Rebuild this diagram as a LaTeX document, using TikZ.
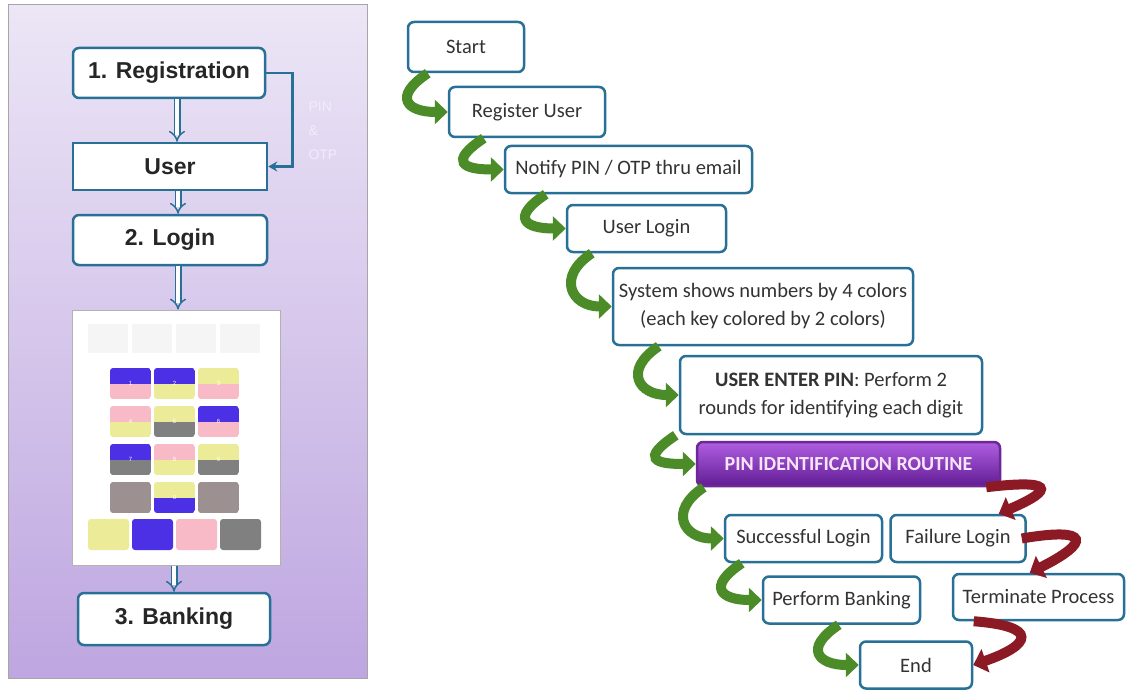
\documentclass[tikz,border=0pt]{standalone}
\usepackage{fontspec}
\setmainfont{Carlito}
\newfontfamily\arialfont{Liberation Sans}
\usetikzlibrary{arrows.meta,calc}
\usetikzlibrary{positioning}
\definecolor{boxblue}{RGB}{40,112,150}
\definecolor{flowgreen}{RGB}{76,140,40}
\definecolor{flowred}{RGB}{140,26,36}
\definecolor{keyblue}{RGB}{76,48,230}
\definecolor{keypink}{RGB}{247,186,198}
\definecolor{keyyellow}{RGB}{236,236,152}
\definecolor{keygray}{RGB}{128,128,128}
\definecolor{keytaupe}{RGB}{156,144,144}
\tikzstyle{stage} = [rectangle, rounded corners=6pt, draw=boxblue, line width=2.5pt, fill=white, text=black!85, inner sep=2pt, font=\arialfont\bfseries\fontsize{23}{26}\selectfont]
\tikzstyle{flowbox} = [rectangle, rounded corners=6pt, draw=boxblue, line width=2.5pt, fill=white, text=black!80, inner sep=2pt, align=center, font=\fontsize{20.5}{28}\selectfont]
\tikzstyle{hollow} = [draw=boxblue, line width=1.5pt, double=white, double distance=4pt, -{Implies[length=7pt]}]
\tikzstyle{greenarrow} = [flowgreen, line width=10pt, -{Triangle[length=13pt,width=24pt]}]
\tikzstyle{redarrow} = [flowred, line width=10pt, -{Triangle[length=13pt,width=24pt]}]

\begin{document}
\begin{tikzpicture}[x=1pt, y=-1pt]
    \useasboundingbox (0,0) rectangle (1127,690);
    \fill[white] (0,0) rectangle (1127,690);
    \draw[gray!70, line width=1pt, top color={rgb,255:red,236;green,230;blue,246}, bottom color={rgb,255:red,190;green,166;blue,224}] (8,5) rectangle (367,678);

    \node (reg) [stage, minimum width=192pt, minimum height=50pt] at (169,73) {1. Registration};
    \node (user) [stage, sharp corners, minimum width=194pt, minimum height=47pt] at (170,166.5) {User};
    \node (login) [stage, minimum width=194pt, minimum height=50pt] at (170,240) {2. Login};
    \node (keypad) [rectangle, draw=gray!60, line width=1pt, fill=white, minimum width=208pt, minimum height=255pt] at (176,437.5) {};
    \node (bank) [stage, minimum width=192pt, minimum height=52pt] at (174,619) {3. Banking};

    \draw[hollow] ([xshift=8pt]reg.south) -- ([xshift=8pt]reg.south |- user.north);
    \draw[hollow] ([xshift=8pt]user.south) -- ([xshift=8pt]user.south |- login.north);
    \draw[hollow] ([xshift=8pt]login.south) -- ([xshift=8pt]login.south |- keypad.north);
    \draw[hollow] ([xshift=-2pt]keypad.south) -- ([xshift=-2pt]keypad.south |- bank.north);
    \draw[boxblue, line width=2.5pt, -{Stealth[length=9pt,width=10pt]}] (reg.east) -- ++(26,0) |- (user.east);
    \node (pinotp) [align=left, text={rgb,255:red,242;green,236;blue,250}, font=\arialfont\fontsize{14}{24}\selectfont, anchor=north west] at (305,98) {PIN\\\&\\OTP};

    \foreach \i in {0,...,3}
        \fill[gray!8] (88+44*\i,324) rectangle +(40,29);
    \foreach \c/\r/\ca/\cb/\d in {0/0/keyblue/keypink/1, 1/0/keyblue/keyyellow/2, 2/0/keyyellow/keypink/3,
        0/1/keypink/keyyellow/4, 1/1/keyyellow/keygray/5, 2/1/keyblue/keypink/6,
        0/2/keyblue/keygray/7, 1/2/keypink/keyyellow/8, 2/2/keyyellow/keygray/9,
        0/3/keytaupe/keytaupe/, 1/3/keyyellow/keyblue/0, 2/3/keytaupe/keytaupe/}{
        \begin{scope}
            \clip[rounded corners=3pt] (110+44*\c,368+38*\r) rectangle +(41,31);
            \fill[\ca] (110+44*\c,368+38*\r) rectangle +(41,15.5);
            \fill[\cb] (110+44*\c,383.5+38*\r) rectangle +(41,15.5);
        \end{scope}
        \node[text=white, font=\arialfont\fontsize{6}{6}\selectfont] at (130.5+44*\c,383.5+38*\r) {\d};
    }
    \foreach \i/\col in {0/keyyellow, 1/keyblue, 2/keypink, 3/keygray}
        \fill[\col, rounded corners=3pt] (88+44*\i,519) rectangle +(41,31);

    \node (start) [flowbox, minimum width=116pt, minimum height=50pt] at (466,47) {Start};
    \node (register) [flowbox, minimum width=156pt, minimum height=50pt] at (527,112) {Register User};
    \node (notify) [flowbox, minimum width=247pt, minimum height=47pt] at (628.5,169.5) {Notify PIN / OTP thru email};
    \node (ulogin) [flowbox, minimum width=159pt, minimum height=47pt] at (646.5,228.5) {User Login};
    \node (system) [flowbox, minimum width=300pt, minimum height=77pt] at (763,306.5) {System shows numbers by 4 colors\\(each key colored by 2 colors)};
    \node (enterpin) [flowbox, minimum width=302pt, minimum height=78pt] at (831,395) {\textbf{USER ENTER PIN}: Perform 2\\rounds for identifying each digit};
    \node (routine) [flowbox, draw={rgb,255:red,110;green,40;blue,150}, top color={rgb,255:red,175;green,95;blue,225}, bottom color={rgb,255:red,98;green,28;blue,148}, text={rgb,255:red,248;green,228;blue,248}, font=\bfseries\fontsize{20}{24}\selectfont, minimum width=303pt, minimum height=44pt] at (848.5,464) {PIN IDENTIFICATION ROUTINE};
    \node (success) [flowbox, minimum width=157pt, minimum height=47pt] at (803.5,538.5) {Successful Login};
    \node (failure) [flowbox, minimum width=135pt, minimum height=47pt, right=6pt of success] {Failure Login};
    \node (perform) [flowbox, minimum width=157pt, minimum height=47pt] at (841.5,600) {Perform Banking};
    \node (terminate) [flowbox, minimum width=171pt, minimum height=46pt] at (1038.5,597) {Terminate Process};
    \node (finish) [flowbox, minimum width=112pt, minimum height=47pt] at (916,665) {End};

    \foreach \a/\b in {start/register, register/notify, notify/ulogin, ulogin/system, system/enterpin, enterpin/routine, routine/success, success/perform, perform/finish}
        \draw[greenarrow] ([xshift=-20pt]\b.west |- \a.south) .. controls +(-36,24) and +(-40,0) .. (\b.west);

    \draw[redarrow] ([xshift=-15pt]routine.south east) .. controls +(66,-8) and +(58,-25) .. ([xshift=-28pt]failure.north east);
    \draw[redarrow] ([xshift=-5pt]failure.east) .. controls +(70,-12) and +(60,-30) .. ([xshift=78pt]terminate.north west);
    \draw[redarrow] ([xshift=22pt]terminate.south west) .. controls +(66,5) and +(58,-20) .. (finish.east);
\end{tikzpicture}
\end{document}
